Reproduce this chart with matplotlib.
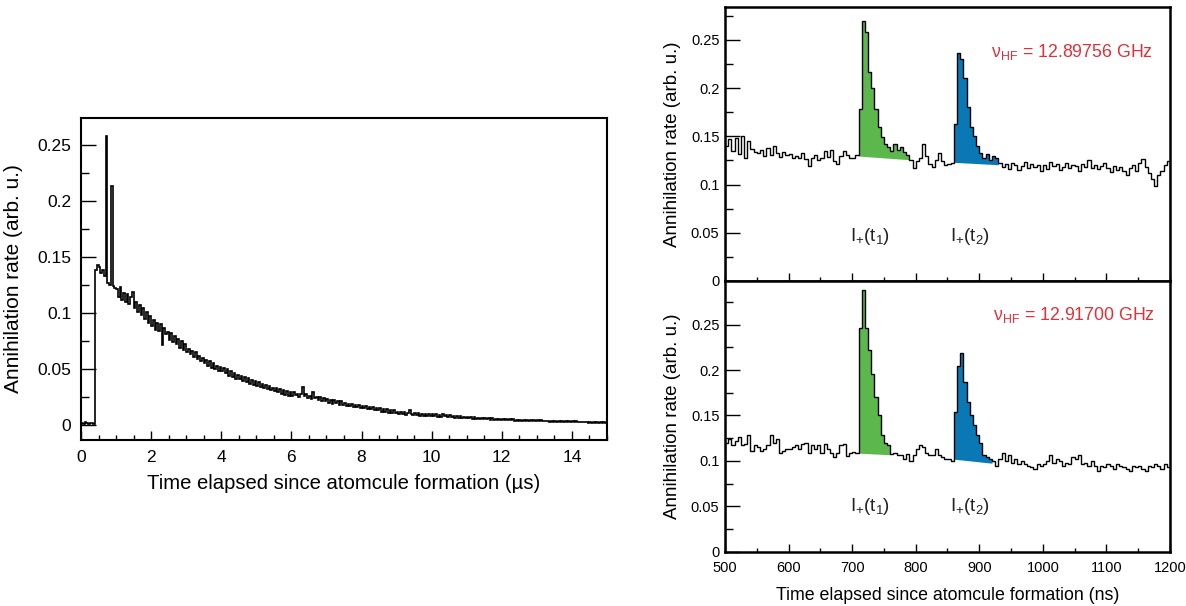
import numpy as np
import matplotlib
matplotlib.use('Agg')
import matplotlib.pyplot as plt
from matplotlib.ticker import MultipleLocator, FuncFormatter

plt.rcParams['font.family'] = ['Liberation Sans', 'DejaVu Sans']
plt.rcParams['mathtext.fontset'] = 'custom'
plt.rcParams['mathtext.rm'] = 'Liberation Sans'
plt.rcParams['mathtext.it'] = 'Liberation Sans:italic'

# ---------------- data ----------------
# Left: full annihilation-rate spectrum, 0.05 us bins from 0 us
left_start, left_width = 0.0, 0.05
left_rate = [
    0.002, 0.001, 0.003, 0.002, 0.001, 0.002, 0.002, 0.001, 0.138, 0.143,
    0.141, 0.136, 0.138, 0.133, 0.258, 0.127, 0.125, 0.213, 0.124, 0.122,
    0.121, 0.114, 0.123, 0.112, 0.118, 0.110, 0.117, 0.108, 0.114, 0.119,
    0.104, 0.110, 0.101, 0.107, 0.098, 0.104, 0.095, 0.101, 0.091, 0.097,
    0.088, 0.094, 0.085, 0.091, 0.084, 0.090, 0.071, 0.087, 0.081, 0.083,
    0.076, 0.082, 0.074, 0.079, 0.072, 0.077, 0.069, 0.075, 0.067, 0.072,
    0.065, 0.068, 0.063, 0.066, 0.061, 0.065, 0.059, 0.062, 0.057, 0.060,
    0.055, 0.058, 0.053, 0.057, 0.051, 0.055, 0.050, 0.053, 0.048, 0.052,
    0.048, 0.051, 0.046, 0.050, 0.044, 0.048, 0.043, 0.046, 0.041, 0.045,
    0.041, 0.044, 0.039, 0.043, 0.038, 0.042, 0.037, 0.040, 0.036, 0.039,
    0.035, 0.038, 0.034, 0.037, 0.033, 0.036, 0.032, 0.035, 0.031, 0.033,
    0.030, 0.033, 0.029, 0.032, 0.028, 0.031, 0.027, 0.030, 0.026, 0.029,
    0.026, 0.029, 0.027, 0.028, 0.025, 0.028, 0.034, 0.026, 0.028, 0.024,
    0.026, 0.023, 0.029, 0.024, 0.025, 0.022, 0.025, 0.021, 0.024, 0.021,
    0.023, 0.020, 0.022, 0.019, 0.022, 0.020, 0.021, 0.018, 0.021, 0.018,
    0.020, 0.017, 0.019, 0.017, 0.019, 0.016, 0.018, 0.016, 0.018, 0.015,
    0.017, 0.015, 0.017, 0.014, 0.016, 0.014, 0.016, 0.013, 0.015, 0.013,
    0.015, 0.012, 0.014, 0.012, 0.014, 0.011, 0.013, 0.011, 0.013, 0.011,
    0.012, 0.010, 0.012, 0.010, 0.012, 0.009, 0.011, 0.013, 0.010, 0.009,
    0.011, 0.009, 0.011, 0.008, 0.010, 0.008, 0.010, 0.008, 0.010, 0.008,
    0.0095, 0.0080, 0.0095, 0.0075, 0.0090, 0.0075, 0.0100, 0.0080, 0.0085, 0.0070,
    0.0085, 0.0070, 0.0082, 0.0066, 0.0080, 0.0066, 0.0078, 0.0062, 0.0075, 0.0060,
    0.0072, 0.0058, 0.0070, 0.0056, 0.0068, 0.0054, 0.0066, 0.0053, 0.0064, 0.0051,
    0.0062, 0.0050, 0.0060, 0.0048, 0.0058, 0.0047, 0.0056, 0.0046, 0.0055, 0.0045,
    0.0054, 0.0044, 0.0052, 0.0042, 0.0051, 0.0041, 0.0050, 0.0040, 0.0048, 0.0039,
    0.0047, 0.0038, 0.0046, 0.0037, 0.0045, 0.0036, 0.0044, 0.0035, 0.0043, 0.0034,
    0.0042, 0.0033, 0.0041, 0.0032, 0.0040, 0.0032, 0.0039, 0.0031, 0.0038, 0.0030,
    0.0037, 0.0029, 0.0036, 0.0028, 0.0035, 0.0027, 0.0037, 0.0028, 0.0034, 0.0026,
    0.0033, 0.0025, 0.0032, 0.0024, 0.0031, 0.0023, 0.0030, 0.0023, 0.0029, 0.0022,
    0.0029, 0.0021, 0.0028, 0.0020, 0.0027, 0.0020, 0.0026, 0.0019, 0.0025, 0.0019,
]

# Right: zoom 500-1200 ns, 5 ns bins
right_start, right_width = 500, 5
top_rate = [
    0.140, 0.147, 0.135, 0.148, 0.132, 0.150, 0.128, 0.145, 0.137, 0.134,
    0.133, 0.136, 0.130, 0.138, 0.131, 0.140, 0.133, 0.129, 0.134, 0.131,
    0.132, 0.128, 0.130, 0.127, 0.133, 0.126, 0.119, 0.128, 0.131, 0.125,
    0.128, 0.135, 0.129, 0.136, 0.124, 0.121, 0.130, 0.135, 0.131, 0.128,
    0.128, 0.131, 0.178, 0.270, 0.258, 0.217, 0.200, 0.178, 0.160, 0.149,
    0.142, 0.139, 0.135, 0.142, 0.136, 0.139, 0.134, 0.131, 0.125, 0.117,
    0.124, 0.127, 0.142, 0.130, 0.121, 0.118, 0.125, 0.133, 0.124, 0.120,
    0.121, 0.122, 0.163, 0.236, 0.230, 0.210, 0.180, 0.160, 0.150, 0.140,
    0.133, 0.128, 0.132, 0.125, 0.130, 0.127, 0.122, 0.118, 0.121, 0.116,
    0.122, 0.120, 0.115, 0.119, 0.123, 0.117, 0.121, 0.118, 0.120, 0.114,
    0.120, 0.116, 0.123, 0.119, 0.121, 0.115, 0.118, 0.122, 0.117, 0.120,
    0.119, 0.114, 0.121, 0.118, 0.125, 0.117, 0.120, 0.116, 0.119, 0.122,
    0.117, 0.113, 0.119, 0.115, 0.118, 0.114, 0.110, 0.117, 0.120, 0.114,
    0.122, 0.126, 0.118, 0.112, 0.106, 0.098, 0.110, 0.114, 0.120, 0.124,
]
bottom_rate = [
    0.120, 0.124, 0.118, 0.122, 0.126, 0.117, 0.119, 0.128, 0.111, 0.117,
    0.115, 0.111, 0.113, 0.118, 0.128, 0.120, 0.124, 0.109, 0.111, 0.113,
    0.113, 0.115, 0.117, 0.113, 0.119, 0.120, 0.109, 0.117, 0.113, 0.117,
    0.109, 0.119, 0.113, 0.109, 0.104, 0.109, 0.117, 0.119, 0.105, 0.109,
    0.110, 0.109, 0.246, 0.288, 0.246, 0.222, 0.196, 0.170, 0.150, 0.128,
    0.120, 0.118, 0.108, 0.109, 0.106, 0.107, 0.102, 0.108, 0.100, 0.106,
    0.113, 0.117, 0.115, 0.109, 0.106, 0.107, 0.113, 0.107, 0.104, 0.102,
    0.102, 0.100, 0.154, 0.204, 0.2185, 0.187, 0.165, 0.150, 0.139, 0.128,
    0.120, 0.106, 0.104, 0.102, 0.100, 0.094, 0.102, 0.109, 0.100, 0.106,
    0.098, 0.102, 0.096, 0.100, 0.096, 0.094, 0.093, 0.091, 0.096, 0.094,
    0.096, 0.100, 0.106, 0.098, 0.102, 0.100, 0.094, 0.098, 0.096, 0.104,
    0.102, 0.106, 0.096, 0.098, 0.094, 0.100, 0.094, 0.089, 0.094, 0.093,
    0.096, 0.094, 0.091, 0.096, 0.094, 0.093, 0.091, 0.089, 0.094, 0.093,
    0.094, 0.091, 0.089, 0.094, 0.093, 0.096, 0.094, 0.091, 0.096, 0.093,
]

# integration windows (ns) and straight background under each peak
top_green_span, top_green_base = [710, 790], [0.1295, 0.1257]
top_blue_span, top_blue_base = [860, 930], [0.1230, 0.1205]
bot_green_span, bot_green_base = [710, 760], [0.1085, 0.1067]
bot_blue_span, bot_blue_base = [860, 920], [0.1019, 0.0974]

freq_labels = [r'$\mathrm{\nu_{HF}}$ = 12.89756 GHz', r'$\mathrm{\nu_{HF}}$ = 12.91700 GHz']
peak_labels = [r'$\mathrm{I_{+}(t_{1})}$', r'$\mathrm{I_{+}(t_{2})}$']

GREEN = '#5cb84c'
BLUE = '#0a78b4'
RED = '#e0303a'

# ---------------- figure ----------------
fig = plt.figure(figsize=(11.86, 6.06), dpi=100)
W, H = 1186, 606


def axes_px(x0, y0, x1, y1):
    return fig.add_axes([x0 / W, 1 - y1 / H, (x1 - x0) / W, (y1 - y0) / H])


fmt = FuncFormatter(lambda v, p: f'{v:g}')


def style(ax, ylen, xlen, lab_size, spine_w):
    for s in ax.spines.values():
        s.set_linewidth(spine_w)
    ax.tick_params(which='both', direction='in', top=False, right=False,
                   labelsize=lab_size, width=1.0)
    ax.tick_params(axis='y', which='major', length=ylen)
    ax.tick_params(axis='y', which='minor', length=ylen / 2)
    ax.tick_params(axis='x', which='major', length=xlen)
    ax.tick_params(axis='x', which='minor', length=xlen / 2)
    ax.yaxis.set_major_formatter(fmt)


# Left panel
axL = axes_px(81, 118, 607, 440)
edgesL = left_start + left_width * np.arange(len(left_rate) + 1)
axL.stairs(left_rate, edgesL, color='black', lw=1.2)
axL.set_xlim(0, 15)
axL.set_ylim(-0.0134, 0.274)
axL.xaxis.set_major_locator(MultipleLocator(2))
axL.xaxis.set_minor_locator(MultipleLocator(0.5))
axL.yaxis.set_major_locator(MultipleLocator(0.05))
axL.yaxis.set_minor_locator(MultipleLocator(0.025))
style(axL, 11, 6.5, 12.5, 1.5)
axL.tick_params(axis='x', pad=7)
axL.tick_params(axis='y', pad=7)
axL.set_xlabel('Time elapsed since atomcule formation (µs)', fontsize=14.6, labelpad=7)
axL.set_ylabel('Annihilation rate (arb. u.)', fontsize=15, labelpad=10)


def fill_peak(ax, edges, vals, span, base, color):
    e = np.asarray(edges, dtype=float)
    v = np.asarray(vals, dtype=float)
    i0 = int(np.searchsorted(e, span[0]))
    i1 = int(np.searchsorted(e, span[1]))
    xs = np.repeat(e[i0:i1 + 1], 2)[1:-1]
    ys = np.repeat(v[i0:i1], 2)
    b = np.interp(xs, span, base)
    ax.fill_between(xs, np.maximum(ys, b), b, color=color, lw=0, zorder=1)


panels = [
    (7, 281, top_rate, 0.284, top_green_span, top_green_base, top_blue_span, top_blue_base,
     freq_labels[0], (919, 0.2375), 0.046),
    (281, 551.7, bottom_rate, 0.298, bot_green_span, bot_green_base, bot_blue_span, bot_blue_base,
     freq_labels[1], (921, 0.261), 0.050),
]
axes_r = []
for (y0, y1, rate, ytop, gs, gb, bs, bb, flab, fpos, ly) in panels:
    ax = axes_px(725, y0, 1170, y1)
    edges = right_start + right_width * np.arange(len(rate) + 1)
    fill_peak(ax, edges, rate, gs, gb, GREEN)
    fill_peak(ax, edges, rate, bs, bb, BLUE)
    ax.stairs(rate, edges, color='black', lw=1.0, zorder=3)
    ax.set_xlim(500, 1200)
    ax.set_ylim(0, ytop)
    ax.xaxis.set_major_locator(MultipleLocator(100))
    ax.xaxis.set_minor_locator(MultipleLocator(50))
    ax.yaxis.set_major_locator(MultipleLocator(0.05))
    ax.yaxis.set_minor_locator(MultipleLocator(0.025))
    style(ax, 11, 5.5, 10.5, 1.8)
    ax.tick_params(axis='y', pad=4)
    ax.tick_params(axis='x', pad=7)
    ax.set_ylabel('Annihilation rate (arb. u.)', fontsize=13.5, labelpad=7)
    ax.text(fpos[0], fpos[1], flab, color=RED, fontsize=12.8, ha='left', va='center')
    ax.text(728, ly, peak_labels[0], color='#222222', fontsize=13.5, ha='center', va='center')
    ax.text(885, ly, peak_labels[1], color='#222222', fontsize=13.5, ha='center', va='center')
    axes_r.append(ax)

axes_r[0].tick_params(axis='x', labelbottom=False)
axes_r[1].set_xlabel('Time elapsed since atomcule formation (ns)', fontsize=12.8, labelpad=8)

fig.savefig('out.png', dpi=100)
